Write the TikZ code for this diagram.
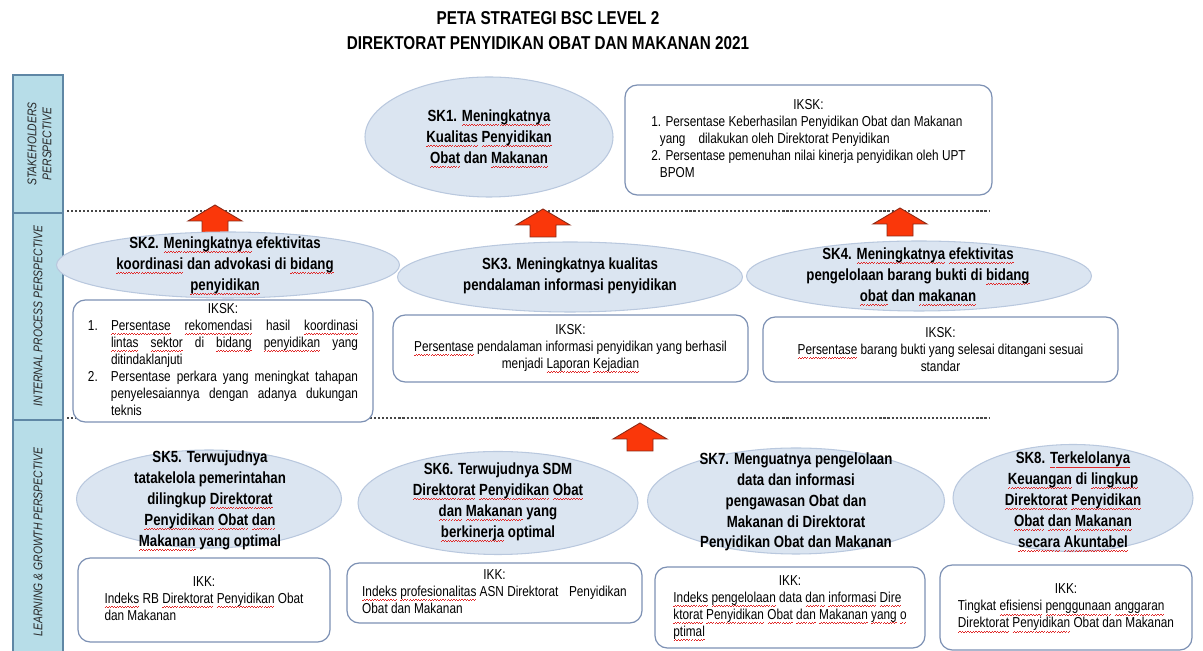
\documentclass[tikz,border=0pt]{standalone}
\usepackage{fontspec}
\setmainfont{Liberation Sans}
\newfontfamily\narrowsf[FakeStretch=0.82]{Liberation Sans}
\usetikzlibrary{shapes.geometric}

\definecolor{sidefill}{RGB}{183,221,232}
\definecolor{sideline}{RGB}{95,135,165}
\definecolor{goalfill}{RGB}{219,229,241}
\definecolor{goalline}{RGB}{185,200,222}
\definecolor{boxline}{RGB}{125,145,180}
\definecolor{arrowfill}{RGB}{250,55,10}
\definecolor{arrowline}{RGB}{140,40,20}
\definecolor{dotline}{RGB}{70,70,70}
\definecolor{squiggle}{RGB}{225,40,40}

\newcommand\goalfont{\narrowsf\bfseries\fontsize{9.2}{11.9}\selectfont}
\newcommand\boxfont{\narrowsf\fontsize{8.2}{9.7}\selectfont}
\newcommand\sidefont{\narrowsf\itshape\fontsize{7.2}{8.6}\selectfont}
\newcommand\titlefont{\narrowsf\bfseries\fontsize{10.6}{14.2}\selectfont}

% red spell-check squiggle under a word
\newbox\sqbox
\newcommand\sq[1]{\setbox\sqbox\hbox{#1}\leavevmode\rlap{\color{squiggle}\hbox to\wd\sqbox{\xleaders\hbox{\rule[-2.5pt]{0.75pt}{0.45pt}\rule[-2.0pt]{0.75pt}{0.45pt}}\hfil}}#1}

\begin{document}
\begin{tikzpicture}[
    goal/.style={ellipse, fill=goalfill, draw=goalline, line width=0.6pt, inner sep=0pt},
    goaltext/.style={align=center, font=\goalfont, inner sep=0pt},
    kpi/.style={draw=boxline, fill=white, rounded corners=7pt, line width=0.7pt, inner sep=0pt, font=\boxfont},
    side/.style={draw=sideline, fill=sidefill, line width=0.6pt},
    sidetext/.style={rotate=90, align=center, font=\sidefont, text=black!85, inner sep=0pt},
    sepline/.style={draw=dotline, line width=1.5pt, dash pattern=on 1.2pt off 1.1pt},
    uparrow/.style={fill=arrowfill, draw=arrowline, line width=0.5pt}
  ]
  \useasboundingbox (0,0) rectangle (24.06,13.02);

  \node[font=\titlefont, align=center, inner sep=0pt] (title) at (10.96, 12.40)
    {PETA STRATEGI BSC LEVEL 2\\DIREKTORAT PENYIDIKAN OBAT DAN MAKANAN 2021};

  % perspectives
  \draw[side] (0.26, 8.76) rectangle (1.26, 11.52);
  \draw[side] (0.26, 4.62) rectangle (1.26, 8.76);
  \draw[side] (0.26, -0.2) rectangle (1.26, 4.62);
  \node[sidetext] (persp1) at (0.79, 10.14) {STAKEHOLDERS\\PERSPECTIVE};
  \node[sidetext] (persp2) at (0.76, 6.70) {INTERNAL PROCESS PERSPECTIVE};
  \node[sidetext] (persp3) at (0.76, 2.18) {LEARNING \& GROWTH PERSPECTIVE};

  \draw[sepline] (1.34, 8.80) -- (19.80, 8.80);
  \draw[sepline] (1.34, 4.66) -- (19.80, 4.66);

  \foreach \x/\y in {4.30/8.92, 10.86/8.84, 18.00/8.86, 12.80/4.56}
    \draw[uparrow] (\x, \y) -- ++(0.54, -0.32) -- ++(-0.28, 0) -- ++(0, -0.24)
      -- ++(-0.52, 0) -- ++(0, 0.24) -- ++(-0.28, 0) -- cycle;

  % stakeholders
  \node[goal, minimum width=4.96cm, minimum height=2.40cm] (sk1) at (9.78, 10.28) {};
  \node[goaltext] (sk1txt) at (9.78, 10.25)
    {SK1. \sq{Meningkatnya}\\\sq{Kualitas} \sq{Penyidikan}\\\sq{Obat} dan \sq{Makanan}};

  \node[kpi, minimum width=7.34cm, minimum height=2.20cm] (iksk1) at (16.17, 10.22)
    {\begin{tabular}{@{}l@{}}
      \multicolumn{1}{@{}c@{}}{IKSK:}\\
      1. Persentase Keberhasilan Penyidikan Obat dan Makanan\\
      \hspace{0.6em}yang\hspace{0.9em}dilakukan oleh Direktorat Penyidikan\\
      2. Persentase pemenuhan nilai kinerja penyidikan oleh UPT\\
      \hspace{0.6em}BPOM
    \end{tabular}};

  % internal process
  \node[goal, minimum width=6.86cm, minimum height=1.32cm] (sk2) at (4.56, 7.72) {};
  \node[goaltext] (sk2txt) at (4.50, 7.70)
    {SK2. \sq{Meningkatnya} efektivitas\\\sq{koordinasi} dan advokasi di \sq{bidang}\\\sq{penyidikan}};

  \node[goal, minimum width=6.90cm, minimum height=1.40cm] (sk3) at (11.40, 7.48) {};
  \node[goaltext] (sk3txt) at (11.40, 7.50)
    {SK3. Meningkatnya kualitas\\pendalaman informasi penyidikan};

  \node[goal, minimum width=6.90cm, minimum height=1.40cm] (sk4) at (18.38, 7.50) {};
  \node[goaltext] (sk4txt) at (18.36, 7.48)
    {SK4. \sq{Meningkatnya} \sq{efektivitas}\\pengelolaan barang bukti di \sq{bidang}\\\sq{obat} dan \sq{makanan}};

  \node[kpi, minimum width=6.00cm, minimum height=2.44cm] (iksk2) at (4.46, 5.80)
    {\begin{tabular}{@{}p{0.46cm}@{}l@{}}
      \multicolumn{2}{@{}c@{}}{IKSK:}\\
      1. & \makebox[4.94cm][s]{\sq{Persentase} \sq{rekomendasi} hasil \sq{koordinasi}}\\
         & \makebox[4.94cm][s]{\sq{lintas} \sq{sektor} di \sq{bidang} \sq{penyidikan} yang}\\
         & ditindaklanjuti\\
      2. & \makebox[4.94cm][s]{Persentase perkara yang meningkat tahapan}\\
         & \makebox[4.94cm][s]{penyelesaiannya dengan adanya dukungan}\\
         & teknis
    \end{tabular}};

  \node[kpi, align=center, minimum width=7.10cm, minimum height=1.34cm] (iksk3) at (11.41, 6.05)
    {IKSK:\\\sq{Persentase} pendalaman informasi penyidikan yang berhasil\\menjadi \sq{Laporan} \sq{Kejadian}};

  \node[kpi, align=center, minimum width=7.10cm, minimum height=1.30cm] (iksk4) at (18.81, 6.03)
    {IKSK:\\\sq{Persentase} barang bukti yang selesai ditangani sesuai\\standar};

  % learning & growth
  \node[goal, minimum width=5.30cm, minimum height=1.96cm] (sk5) at (4.18, 3.04) {};
  \node[goaltext] (sk5txt) at (4.20, 3.00)
    {SK5. Terwujudnya\\tatakelola pemerintahan\\dilingkup \sq{Direktorat}\\\sq{Penyidikan} \sq{Obat} \sq{dan}\\\sq{Makanan} yang optimal};

  \node[goal, minimum width=5.60cm, minimum height=2.06cm] (sk6) at (9.96, 2.96) {};
  \node[goaltext] (sk6txt) at (9.96, 2.98)
    {SK6. Terwujudnya SDM\\\sq{Direktorat} \sq{Penyidikan} \sq{Obat}\\\sq{dan} \sq{Makanan} yang\\\sq{berkinerja} optimal};

  \node[goal, minimum width=5.94cm, minimum height=2.12cm] (sk7) at (15.92, 3.00) {};
  \node[goaltext] (sk7txt) at (15.92, 2.98)
    {SK7. Menguatnya pengelolaan\\data dan informasi\\pengawasan Obat dan\\Makanan di Direktorat\\Penyidikan Obat dan Makanan};

  \node[goal, minimum width=4.80cm, minimum height=2.14cm] (sk8) at (21.46, 3.06) {};
  \node[goaltext] (sk8txt) at (21.46, 2.98)
    {SK8. \sq{Terkelolanya}\\\sq{Keuangan} di \sq{lingkup}\\\sq{Direktorat} \sq{Penyidikan}\\\sq{Obat} \sq{dan} \sq{Makanan}\\\sq{secara} \sq{Akuntabel}};

  \node[kpi, minimum width=5.04cm, minimum height=1.68cm] (ikk5) at (4.08, 1.02)
    {\begin{tabular}{@{}l@{}}
      \multicolumn{1}{@{}c@{}}{IKK:}\\
      \sq{Indeks} RB \sq{Direktorat} \sq{Penyidikan} Obat\\
      dan Makanan
    \end{tabular}};

  \node[kpi, minimum width=5.90cm, minimum height=1.20cm] (ikk6) at (9.89, 1.16)
    {\begin{tabular}{@{}l@{}}
      \multicolumn{1}{@{}c@{}}{IKK:}\\
      \sq{Indeks} \sq{profesionalitas} ASN Direktorat\hspace{0.5em} Penyidikan\\
      Obat dan Makanan
    \end{tabular}};

  \node[kpi, minimum width=5.40cm, minimum height=1.62cm] (ikk7) at (15.80, 0.87)
    {\begin{tabular}{@{}l@{}}
      \multicolumn{1}{@{}c@{}}{IKK:}\\
      \sq{Indeks} \sq{pengelolaan} data \sq{dan} \sq{informasi} \sq{Dire}\\
      \sq{ktorat} \sq{Penyidikan} \sq{Obat} \sq{dan} \sq{Makanan} \sq{yang} \sq{o}\\
      \sq{ptimal}
    \end{tabular}};

  \node[kpi, minimum width=5.04cm, minimum height=1.70cm] (ikk8) at (21.32, 0.87)
    {\begin{tabular}{@{}l@{}}
      \multicolumn{1}{@{}c@{}}{IKK:}\\
      Tingkat \sq{efisiensi} \sq{penggunaan} \sq{anggaran}\\
      \sq{Direktorat} \sq{Penyidikan} Obat dan Makanan
    \end{tabular}};
\end{tikzpicture}
\end{document}
